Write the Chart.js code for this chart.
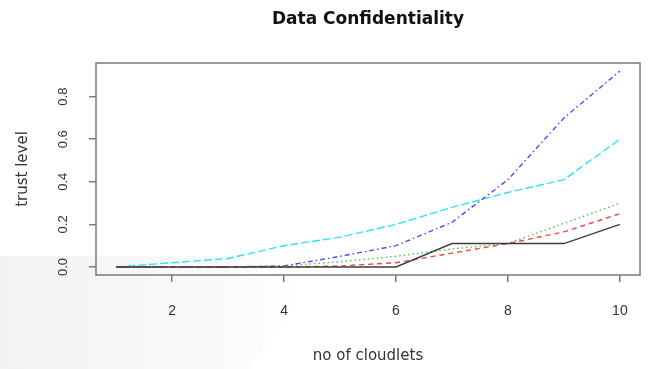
<!DOCTYPE html>
<html>
<head>
<meta charset="utf-8">
<script src="https://cdn.jsdelivr.net/npm/chart.js@4"></script>
<style>
  html, body { margin: 0; padding: 0; background: #fff; }
  #wrap { width: 649px; height: 369px; }
</style>
</head>
<body>
<div id="wrap"><canvas id="myChart" width="649" height="369"></canvas></div>
<script>
const chartTitle = 'Data Confidentiality';
const xTitle = 'no of cloudlets';
const yTitle = 'trust level';

const cloudlets = [1, 2, 3, 4, 5, 6, 7, 8, 9, 10];
const blackVals = [0, 0, 0, 0, 0, 0, 0.11, 0.11, 0.11, 0.2];
const redVals   = [0, 0, 0, 0, 0.005, 0.02, 0.065, 0.11, 0.165, 0.25];
const greenVals = [0, 0, 0, 0.005, 0.025, 0.05, 0.085, 0.11, 0.205, 0.3];
const blueVals  = [0, 0, 0, 0.005, 0.05, 0.1, 0.21, 0.41, 0.7, 0.92];
const cyanVals  = [0, 0.02, 0.04, 0.1, 0.14, 0.2, 0.28, 0.35, 0.41, 0.6];

const xTicks = [2, 4, 6, 8, 10];
const yTicks = [0, 0.2, 0.4, 0.6, 0.8];

const toPoints = vals => cloudlets.map((c, i) => ({ x: c, y: vals[i] }));

const line = (vals, color, dash) => ({
  data: toPoints(vals),
  borderColor: color,
  borderWidth: 1.4,
  borderDash: dash,
  pointRadius: 0,
  tension: 0,
  fill: false
});

// faint grey shading in the lower left corner of the scan
const shadePlugin = {
  id: 'shade',
  beforeDraw(chart) {
    const c = chart.ctx;
    c.save();
    const g = c.createLinearGradient(0, 0, 330, 0);
    g.addColorStop(0, 'rgba(232,232,232,0.55)');
    g.addColorStop(0.7, 'rgba(244,244,244,0.45)');
    g.addColorStop(1, 'rgba(255,255,255,0)');
    c.fillStyle = g;
    c.beginPath();
    c.moveTo(0, 256);
    c.lineTo(330, 256);
    c.lineTo(250, 369);
    c.lineTo(0, 369);
    c.closePath();
    c.fill();
    c.restore();
  }
};

// box round the plot region, like R's box()
const boxPlugin = {
  id: 'box',
  afterDraw(chart) {
    const a = chart.chartArea;
    const c = chart.ctx;
    c.save();
    c.strokeStyle = '#7a7a7a';
    c.lineWidth = 1.5;
    c.strokeRect(a.left, a.top, a.right - a.left, a.bottom - a.top);
    c.restore();
  }
};

const ctx = document.getElementById('myChart').getContext('2d');

const myChart = new Chart(ctx, {
  type: 'line',
  data: {
    datasets: [
      line(blackVals, '#3c3c3c', []),
      line(redVals, '#f04848', [5, 4]),
      line(greenVals, '#4cc44c', [1.5, 3]),
      line(blueVals, '#4a4aff', [1.5, 3, 5, 3]),
      line(cyanVals, '#30e4ee', [8, 3])
    ]
  },
  options: {
    responsive: false,
    animation: false,
    layout: { padding: { left: 0, right: 8, top: 0, bottom: 0 } },
    plugins: {
      legend: { display: false },
      tooltip: { enabled: false },
      title: {
        display: true,
        text: chartTitle,
        fullSize: false,
        color: '#111',
        font: { family: 'DejaVu Sans', size: 17, weight: 'bold' },
        padding: { top: 9, bottom: 33.6 }
      }
    },
    scales: {
      x: {
        type: 'linear',
        min: 0.64,
        max: 10.36,
        afterFit: s => { s.height = 94; },
        afterBuildTicks: s => { s.ticks = xTicks.map(v => ({ value: v })); },
        grid: { drawOnChartArea: false, drawTicks: true, tickLength: 7, color: '#7a7a7a', lineWidth: 1.5 },
        border: { display: false },
        ticks: {
          color: '#333',
          font: { family: 'Liberation Sans', size: 14 },
          padding: 21,
          maxRotation: 0
        },
        title: {
          display: true,
          text: xTitle,
          color: '#333',
          font: { family: 'DejaVu Sans', size: 15 },
          padding: { top: 0, bottom: 4 }
        }
      },
      y: {
        type: 'linear',
        min: -0.0376,
        max: 0.958,
        afterFit: s => { s.width = 96; },
        afterBuildTicks: s => { s.ticks = yTicks.map(v => ({ value: v })); },
        grid: { drawOnChartArea: false, drawTicks: true, tickLength: 7, color: '#7a7a7a', lineWidth: 1.5 },
        border: { display: false },
        ticks: {
          color: '#333',
          font: { family: 'Liberation Sans', size: 13 },
          minRotation: 90,
          maxRotation: 90,
          crossAlign: 'center',
          padding: 17,
          callback: v => v.toFixed(1)
        },
        title: {
          display: true,
          text: yTitle,
          color: '#333',
          font: { family: 'DejaVu Sans', size: 15 },
          padding: { top: 14, bottom: 0 }
        }
      }
    }
  },
  plugins: [shadePlugin, boxPlugin]
});
</script>
</body>
</html>
